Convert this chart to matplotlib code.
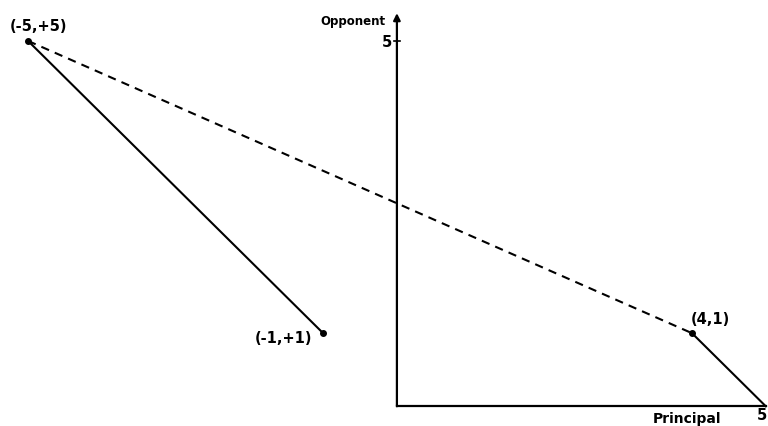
import matplotlib.pyplot as plt

# points in (principal, opponent) space
pt_x = [-5, -1, 4, 5]
pt_y = [5, 1, 1, 0]
pt_labels = ["(-5,+5)", "(-1,+1)", "(4,1)"]
axis_max = 5

fig = plt.figure(figsize=(7.68, 4.26), dpi=100)
ax = fig.add_axes([0, 0, 1, 1])
ax.set_xlim(-5.38, 5.03)
ax.set_ylim(-0.27, 5.56)
ax.axis("off")

font = dict(fontsize=10.5, fontweight="bold", family="DejaVu Sans")

# axes
ax.plot([0, axis_max], [0, 0], color="black", lw=1.6)
ax.annotate("", xy=(0, 5.38), xytext=(0, 0),
            arrowprops=dict(arrowstyle="-|>", color="black", lw=1.6,
                            mutation_scale=10, shrinkA=0, shrinkB=0))
ax.plot([-0.04, 0.04], [axis_max, axis_max], color="black", lw=1.2)
ax.text(-0.06, axis_max - 0.02, str(axis_max), ha="right", va="center", **font)
ax.text(-0.15, 5.17, "Opponent", ha="right", va="bottom",
        **{**font, "fontsize": 8.5})
ax.text(3.93, -0.08, "Principal", ha="center", va="top",
        **{**font, "fontsize": 10})
ax.text(5.02, -0.03, str(axis_max), ha="right", va="top", **font)

# segments
ax.plot([pt_x[0], pt_x[1]], [pt_y[0], pt_y[1]], color="black", lw=1.5)
ax.plot([pt_x[0], pt_x[2]], [pt_y[0], pt_y[2]], color="black", lw=1.5,
        linestyle=(0, (4, 3)))
ax.plot([pt_x[2], pt_x[3]], [pt_y[2], pt_y[3]], color="black", lw=1.5)
ax.plot(pt_x[:3], pt_y[:3], "o", color="black", ms=4)

# point labels
ax.text(-4.86, pt_y[0] + 0.1, pt_labels[0], ha="center", va="bottom", **font)
ax.text(pt_x[1] - 0.15, pt_y[1] - 0.07, pt_labels[1], ha="right", va="center", **font)
ax.text(pt_x[2] + 0.25, pt_y[2] + 0.08, pt_labels[2], ha="center", va="bottom", **font)

fig.savefig("out.png", dpi=100)
